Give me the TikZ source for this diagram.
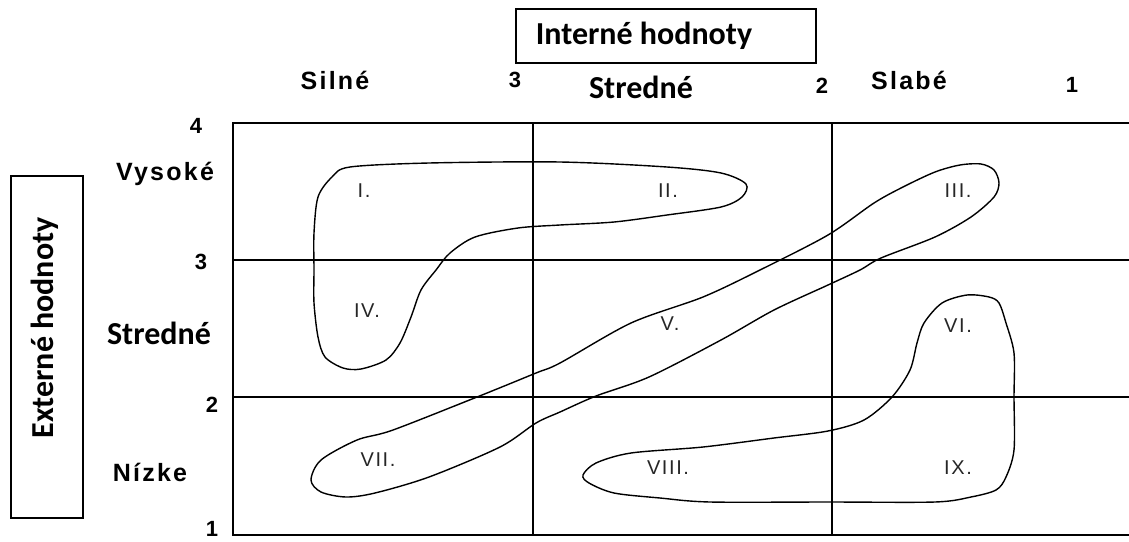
\documentclass[tikz,border=0pt]{standalone}
\usepackage{fontspec}
\newfontfamily\calfont{Carlito}
\newfontfamily\arsp[LetterSpace=9]{Liberation Sans}
\newfontfamily\ar{Liberation Sans}
\newfontfamily\romfont[LetterSpace=8]{Liberation Sans}
\begin{document}
\begin{tikzpicture}[x=1pt,y=-1pt,
  gridline/.style={line width=1.8pt,black},
  boxline/.style={line width=1.3pt,black},
  blob/.style={line width=1.4pt,black},
  calib/.style={font=\calfont\bfseries\fontsize{32}{34}\selectfont,inner sep=0pt},
  spaced/.style={font=\arsp\bfseries\fontsize{25}{27}\selectfont,inner sep=0pt},
  num/.style={font=\ar\bfseries\fontsize{22}{24}\selectfont,inner sep=0pt},
  rom/.style={font=\romfont\fontsize{20}{22}\selectfont,text=black!85,inner sep=0pt}]
\useasboundingbox (0,0) rectangle (1129,541);
\fill[white] (0,0) rectangle (1129,541);
% grid
\draw[gridline] (1129,123) -- (233,123) -- (233,535) -- (1129,535);
\draw[gridline] (533,123) -- (533,535);
\draw[gridline] (832,123) -- (832,535);
\draw[gridline] (233,260) -- (1129,260);
\draw[gridline] (233,397) -- (1129,397);
% title boxes
\node[draw,boxline,minimum width=300pt,minimum height=54pt,inner sep=0pt] (tbox) at (666,36) {};
\node[calib] (ttext) at (644,36) {Interné hodnoty};
\node[draw,boxline,minimum width=72pt,minimum height=342pt,inner sep=0pt] (lbox) at (47,347) {};
\node[calib,rotate=90] (ltext) at (45,328) {Externé hodnoty};
% top labels
\node[spaced] (silne) at (335,80) {Silné};
\node[num] (n3t) at (515,80) {3};
\node[calib] (strt) at (641,87) {Stredné};
\node[num] (n2t) at (822,86) {2};
\node[spaced] (slabe) at (909,80) {Slabé};
\node[num] (n1t) at (1072,85) {1};
% left labels
\node[num] (n4l) at (196,126) {4};
\node[spaced] (vys) at (165,174) {Vysoké};
\node[num] (n3l) at (201,262) {3};
\node[calib] (strl) at (159,333) {Stredné};
\node[num] (n2l) at (212,405) {2};
\node[spaced] (niz) at (150,472) {Nízke};
\node[num] (n1l) at (212,529) {1};
% blobs
\draw[blob] plot[smooth cycle,tension=0.5] coordinates {
 (332,177) (350,167) (429,163) (560,162) (667,167) (721,173) (746,184)
 (742,197) (721,207) (667,215) (614,222) (560,225) (518,228) (475,237)
 (450,253) (436,270) (421,290) (411,317) (400,343) (386,360) (361,369)
 (343,368) (325,357) (318,337) (314,303) (314,270) (314,233) (318,197)};
\draw[blob] plot[smooth cycle,tension=0.5] coordinates {
 (311,480) (321,460) (357,440) (393,430) (482,395) (536,373) (560,363)
 (631,323) (703,297) (760,270) (828,235) (874,203) (903,187) (935,172)
 (960,165) (981,164) (994,170) (999,183) (994,197) (971,217) (935,237)
 (881,258) (860,270) (828,285) (774,310) (721,340) (649,377) (596,396)
 (560,412) (536,423) (500,447) (429,477) (375,493) (346,497) (321,492)};
\draw[blob] plot[smooth cycle,tension=0.5] coordinates {
 (583,475) (596,463) (631,453) (703,447) (774,438) (828,431) (864,420)
 (892,397) (910,370) (917,343) (924,323) (942,303) (967,295) (989,297)
 (999,303) (1006,323) (1014,353) (1014,397) (1014,450) (1006,477)
 (996,490) (971,497) (935,502) (828,502) (710,502) (660,498) (614,493)
 (589,483)};
% roman labels
\node[rom] (r1) at (364,191) {I.};
\node[rom] (r2) at (668,191) {II.};
\node[rom] (r3) at (958,191) {III.};
\node[rom] (r4) at (367,311) {IV.};
\node[rom] (r5) at (670,324) {V.};
\node[rom] (r6) at (958,326) {VI.};
\node[rom] (r7) at (378,460) {VII.};
\node[rom] (r8) at (668,468) {VIII.};
\node[rom] (r9) at (958,468) {IX.};
\end{tikzpicture}
\end{document}
